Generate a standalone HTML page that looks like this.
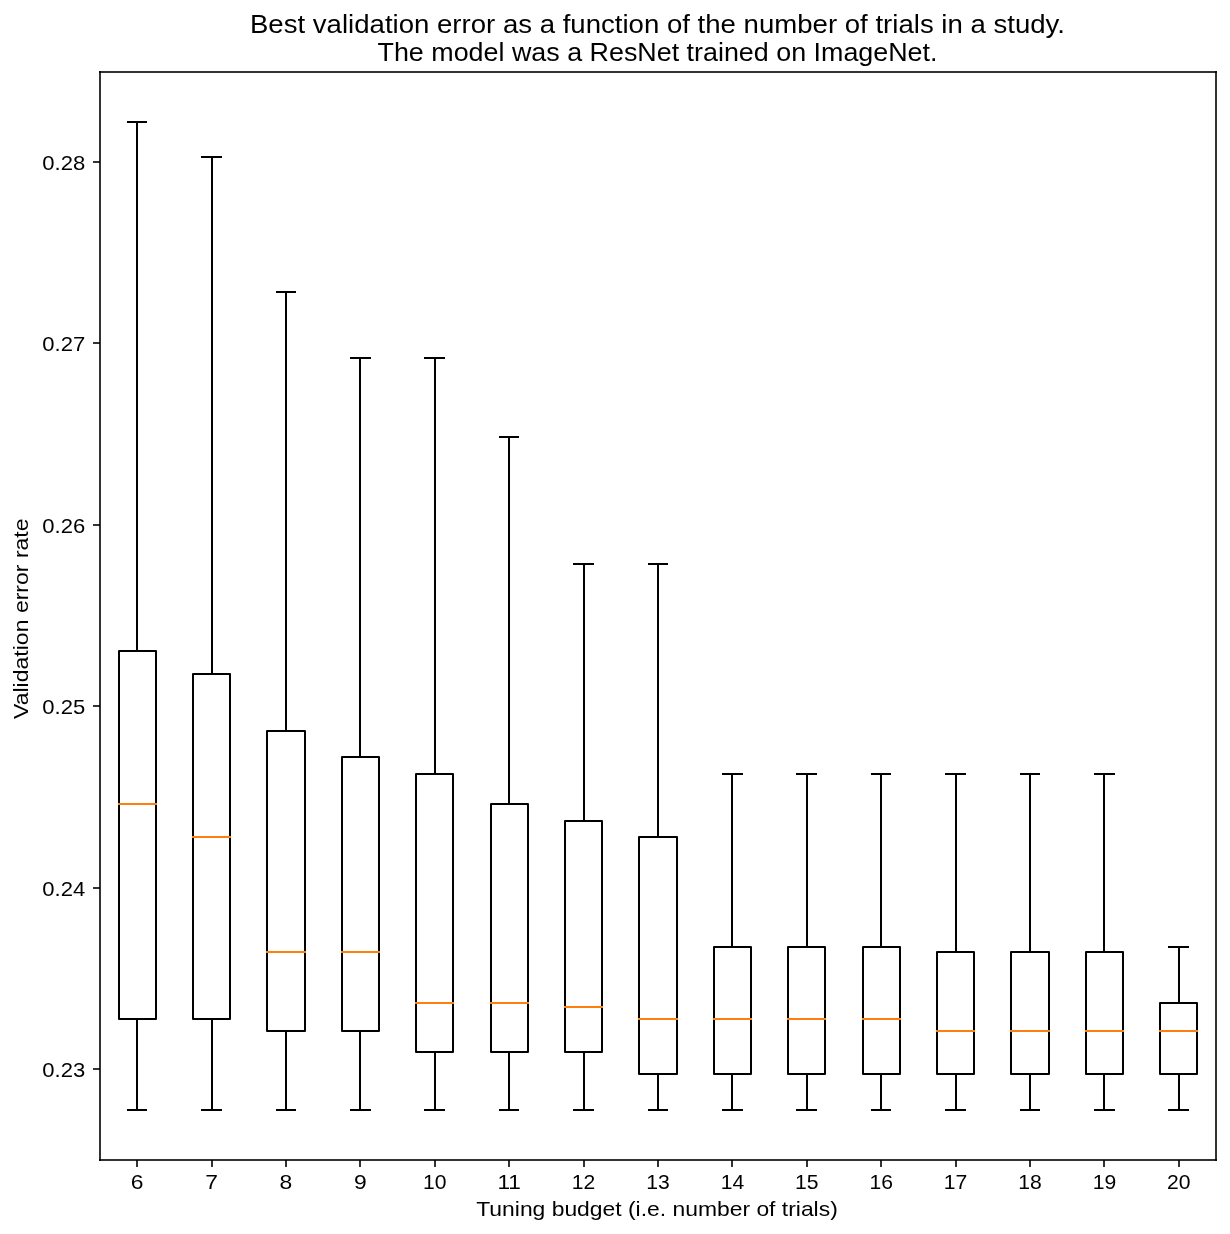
<!DOCTYPE html><html><head><meta charset="utf-8"><style>html,body{margin:0;padding:0;background:#fff;width:1230px;height:1234px;overflow:hidden}svg{display:block;will-change:transform}svg text{font-family:"Liberation Sans",sans-serif;fill:#000}</style></head><body>
<svg width="1230" height="1234" viewBox="0 0 1230 1234">
<path d="M137 1019V1110M137 651V122" stroke="#000" stroke-width="2" fill="none"/>
<path d="M127 1110H147M127 122H147" stroke="#000" stroke-width="2" fill="none"/>
<path d="M119 1019H156V651H119Z" stroke="#000" stroke-width="2" fill="none" stroke-linejoin="round"/>
<path d="M118 804H157" stroke="#ff7f0e" stroke-width="2" fill="none"/>
<path d="M212 1019V1110M212 674V157" stroke="#000" stroke-width="2" fill="none"/>
<path d="M201 1110H222M201 157H222" stroke="#000" stroke-width="2" fill="none"/>
<path d="M193 1019H230V674H193Z" stroke="#000" stroke-width="2" fill="none" stroke-linejoin="round"/>
<path d="M192 837H231" stroke="#ff7f0e" stroke-width="2" fill="none"/>
<path d="M286 1031V1110M286 731V292" stroke="#000" stroke-width="2" fill="none"/>
<path d="M276 1110H296M276 292H296" stroke="#000" stroke-width="2" fill="none"/>
<path d="M267 1031H305V731H267Z" stroke="#000" stroke-width="2" fill="none" stroke-linejoin="round"/>
<path d="M266 952H306" stroke="#ff7f0e" stroke-width="2" fill="none"/>
<path d="M360 1031V1110M360 757V358" stroke="#000" stroke-width="2" fill="none"/>
<path d="M350 1110H371M350 358H371" stroke="#000" stroke-width="2" fill="none"/>
<path d="M342 1031H379V757H342Z" stroke="#000" stroke-width="2" fill="none" stroke-linejoin="round"/>
<path d="M341 952H380" stroke="#ff7f0e" stroke-width="2" fill="none"/>
<path d="M435 1052V1110M435 774V358" stroke="#000" stroke-width="2" fill="none"/>
<path d="M424 1110H445M424 358H445" stroke="#000" stroke-width="2" fill="none"/>
<path d="M416 1052H453V774H416Z" stroke="#000" stroke-width="2" fill="none" stroke-linejoin="round"/>
<path d="M415 1003H454" stroke="#ff7f0e" stroke-width="2" fill="none"/>
<path d="M509 1052V1110M509 804V437" stroke="#000" stroke-width="2" fill="none"/>
<path d="M499 1110H519M499 437H519" stroke="#000" stroke-width="2" fill="none"/>
<path d="M491 1052H528V804H491Z" stroke="#000" stroke-width="2" fill="none" stroke-linejoin="round"/>
<path d="M490 1003H529" stroke="#ff7f0e" stroke-width="2" fill="none"/>
<path d="M584 1052V1110M584 821V564" stroke="#000" stroke-width="2" fill="none"/>
<path d="M573 1110H594M573 564H594" stroke="#000" stroke-width="2" fill="none"/>
<path d="M565 1052H602V821H565Z" stroke="#000" stroke-width="2" fill="none" stroke-linejoin="round"/>
<path d="M564 1007H603" stroke="#ff7f0e" stroke-width="2" fill="none"/>
<path d="M658 1074V1110M658 837V564" stroke="#000" stroke-width="2" fill="none"/>
<path d="M648 1110H668M648 564H668" stroke="#000" stroke-width="2" fill="none"/>
<path d="M639 1074H677V837H639Z" stroke="#000" stroke-width="2" fill="none" stroke-linejoin="round"/>
<path d="M638 1019H678" stroke="#ff7f0e" stroke-width="2" fill="none"/>
<path d="M732 1074V1110M732 947V774" stroke="#000" stroke-width="2" fill="none"/>
<path d="M722 1110H743M722 774H743" stroke="#000" stroke-width="2" fill="none"/>
<path d="M714 1074H751V947H714Z" stroke="#000" stroke-width="2" fill="none" stroke-linejoin="round"/>
<path d="M713 1019H752" stroke="#ff7f0e" stroke-width="2" fill="none"/>
<path d="M807 1074V1110M807 947V774" stroke="#000" stroke-width="2" fill="none"/>
<path d="M796 1110H817M796 774H817" stroke="#000" stroke-width="2" fill="none"/>
<path d="M788 1074H825V947H788Z" stroke="#000" stroke-width="2" fill="none" stroke-linejoin="round"/>
<path d="M787 1019H826" stroke="#ff7f0e" stroke-width="2" fill="none"/>
<path d="M881 1074V1110M881 947V774" stroke="#000" stroke-width="2" fill="none"/>
<path d="M871 1110H891M871 774H891" stroke="#000" stroke-width="2" fill="none"/>
<path d="M863 1074H900V947H863Z" stroke="#000" stroke-width="2" fill="none" stroke-linejoin="round"/>
<path d="M862 1019H901" stroke="#ff7f0e" stroke-width="2" fill="none"/>
<path d="M956 1074V1110M956 952V774" stroke="#000" stroke-width="2" fill="none"/>
<path d="M945 1110H966M945 774H966" stroke="#000" stroke-width="2" fill="none"/>
<path d="M937 1074H974V952H937Z" stroke="#000" stroke-width="2" fill="none" stroke-linejoin="round"/>
<path d="M936 1031H975" stroke="#ff7f0e" stroke-width="2" fill="none"/>
<path d="M1030 1074V1110M1030 952V774" stroke="#000" stroke-width="2" fill="none"/>
<path d="M1020 1110H1040M1020 774H1040" stroke="#000" stroke-width="2" fill="none"/>
<path d="M1011 1074H1049V952H1011Z" stroke="#000" stroke-width="2" fill="none" stroke-linejoin="round"/>
<path d="M1010 1031H1050" stroke="#ff7f0e" stroke-width="2" fill="none"/>
<path d="M1104 1074V1110M1104 952V774" stroke="#000" stroke-width="2" fill="none"/>
<path d="M1094 1110H1115M1094 774H1115" stroke="#000" stroke-width="2" fill="none"/>
<path d="M1086 1074H1123V952H1086Z" stroke="#000" stroke-width="2" fill="none" stroke-linejoin="round"/>
<path d="M1085 1031H1124" stroke="#ff7f0e" stroke-width="2" fill="none"/>
<path d="M1179 1074V1110M1179 1003V947" stroke="#000" stroke-width="2" fill="none"/>
<path d="M1168 1110H1189M1168 947H1189" stroke="#000" stroke-width="2" fill="none"/>
<path d="M1160 1074H1197V1003H1160Z" stroke="#000" stroke-width="2" fill="none" stroke-linejoin="round"/>
<path d="M1159 1031H1198" stroke="#ff7f0e" stroke-width="2" fill="none"/>
<rect x="99" y="71" width="2" height="1090" fill="#000" fill-opacity="0.8"/>
<rect x="1215" y="71" width="2" height="1090" fill="#000" fill-opacity="0.8"/>
<rect x="99" y="71" width="1118" height="2" fill="#000" fill-opacity="0.8"/>
<rect x="99" y="1159" width="1118" height="2" fill="#000" fill-opacity="0.8"/>
<rect x="136" y="1160" width="2" height="7" fill="#000" fill-opacity="0.8"/>
<rect x="211" y="1160" width="2" height="7" fill="#000" fill-opacity="0.8"/>
<rect x="285" y="1160" width="2" height="7" fill="#000" fill-opacity="0.8"/>
<rect x="359" y="1160" width="2" height="7" fill="#000" fill-opacity="0.8"/>
<rect x="434" y="1160" width="2" height="7" fill="#000" fill-opacity="0.8"/>
<rect x="508" y="1160" width="2" height="7" fill="#000" fill-opacity="0.8"/>
<rect x="583" y="1160" width="2" height="7" fill="#000" fill-opacity="0.8"/>
<rect x="657" y="1160" width="2" height="7" fill="#000" fill-opacity="0.8"/>
<rect x="731" y="1160" width="2" height="7" fill="#000" fill-opacity="0.8"/>
<rect x="806" y="1160" width="2" height="7" fill="#000" fill-opacity="0.8"/>
<rect x="880" y="1160" width="2" height="7" fill="#000" fill-opacity="0.8"/>
<rect x="955" y="1160" width="2" height="7" fill="#000" fill-opacity="0.8"/>
<rect x="1029" y="1160" width="2" height="7" fill="#000" fill-opacity="0.8"/>
<rect x="1103" y="1160" width="2" height="7" fill="#000" fill-opacity="0.8"/>
<rect x="1178" y="1160" width="2" height="7" fill="#000" fill-opacity="0.8"/>
<rect x="93" y="1068" width="7" height="2" fill="#000" fill-opacity="0.8"/>
<rect x="93" y="887" width="7" height="2" fill="#000" fill-opacity="0.8"/>
<rect x="93" y="705" width="7" height="2" fill="#000" fill-opacity="0.8"/>
<rect x="93" y="524" width="7" height="2" fill="#000" fill-opacity="0.8"/>
<rect x="93" y="342" width="7" height="2" fill="#000" fill-opacity="0.8"/>
<rect x="93" y="161" width="7" height="2" fill="#000" fill-opacity="0.8"/>
<text x="137.2" y="1189" font-size="20.4" text-anchor="middle" textLength="12.72" lengthAdjust="spacingAndGlyphs">6</text>
<text x="211.6" y="1189" font-size="20.4" text-anchor="middle" textLength="12.72" lengthAdjust="spacingAndGlyphs">7</text>
<text x="286.0" y="1189" font-size="20.4" text-anchor="middle" textLength="12.72" lengthAdjust="spacingAndGlyphs">8</text>
<text x="360.4" y="1189" font-size="20.4" text-anchor="middle" textLength="12.72" lengthAdjust="spacingAndGlyphs">9</text>
<text x="434.8" y="1189" font-size="20.4" text-anchor="middle" textLength="23.50" lengthAdjust="spacingAndGlyphs">10</text>
<text x="509.2" y="1189" font-size="20.4" text-anchor="middle" textLength="23.50" lengthAdjust="spacingAndGlyphs">11</text>
<text x="583.6" y="1189" font-size="20.4" text-anchor="middle" textLength="23.50" lengthAdjust="spacingAndGlyphs">12</text>
<text x="658.0" y="1189" font-size="20.4" text-anchor="middle" textLength="23.50" lengthAdjust="spacingAndGlyphs">13</text>
<text x="732.4" y="1189" font-size="20.4" text-anchor="middle" textLength="23.50" lengthAdjust="spacingAndGlyphs">14</text>
<text x="806.8" y="1189" font-size="20.4" text-anchor="middle" textLength="23.50" lengthAdjust="spacingAndGlyphs">15</text>
<text x="881.2" y="1189" font-size="20.4" text-anchor="middle" textLength="23.50" lengthAdjust="spacingAndGlyphs">16</text>
<text x="955.6" y="1189" font-size="20.4" text-anchor="middle" textLength="23.50" lengthAdjust="spacingAndGlyphs">17</text>
<text x="1030.0" y="1189" font-size="20.4" text-anchor="middle" textLength="23.50" lengthAdjust="spacingAndGlyphs">18</text>
<text x="1104.4" y="1189" font-size="20.4" text-anchor="middle" textLength="23.50" lengthAdjust="spacingAndGlyphs">19</text>
<text x="1178.8" y="1189" font-size="20.4" text-anchor="middle" textLength="23.50" lengthAdjust="spacingAndGlyphs">20</text>
<text x="85.2" y="1077.1" font-size="20.6" text-anchor="end" textLength="42.9" lengthAdjust="spacingAndGlyphs">0.23</text>
<text x="85.2" y="896.1" font-size="20.6" text-anchor="end" textLength="42.9" lengthAdjust="spacingAndGlyphs">0.24</text>
<text x="85.2" y="714.1" font-size="20.6" text-anchor="end" textLength="42.9" lengthAdjust="spacingAndGlyphs">0.25</text>
<text x="85.2" y="533.1" font-size="20.6" text-anchor="end" textLength="42.9" lengthAdjust="spacingAndGlyphs">0.26</text>
<text x="85.2" y="351.1" font-size="20.6" text-anchor="end" textLength="42.9" lengthAdjust="spacingAndGlyphs">0.27</text>
<text x="85.2" y="170.1" font-size="20.6" text-anchor="end" textLength="42.9" lengthAdjust="spacingAndGlyphs">0.28</text>
<text x="657.5" y="32.7" font-size="25.6" text-anchor="middle" textLength="815.04" lengthAdjust="spacingAndGlyphs">Best validation error as a function of the number of trials in a study.</text>
<text x="657.5" y="60.5" font-size="25.6" text-anchor="middle" textLength="559.99" lengthAdjust="spacingAndGlyphs">The model was a ResNet trained on ImageNet.</text>
<text x="657" y="1215.7" font-size="20.4" text-anchor="middle" textLength="361.52" lengthAdjust="spacingAndGlyphs">Tuning budget (i.e. number of trials)</text>
<text transform="translate(27.9 618.7) rotate(-90)" x="0" y="0" font-size="20.4" text-anchor="middle" textLength="200.52" lengthAdjust="spacingAndGlyphs">Validation error rate</text>
</svg></body></html>
